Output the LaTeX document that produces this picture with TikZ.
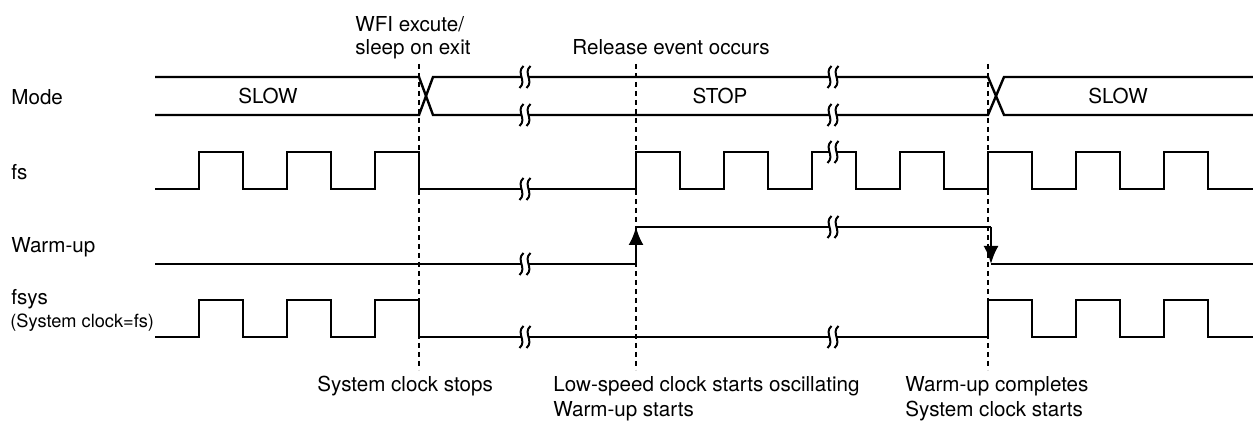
\documentclass[tikz,border=0pt]{standalone}
\usepackage{fontspec}
\setmainfont{TeX Gyre Heros}
\usetikzlibrary{arrows.meta}

\begin{document}
\begin{tikzpicture}[x=0.5pt, y=-0.5pt, >={Latex[length=9pt,width=7.5pt]},
    every node/.style={font=\fontsize{10.3}{12}\selectfont, inner sep=0pt},
    sig/.style={line width=1.2pt},
    guide/.style={line width=0.8pt, dash pattern=on 2.5pt off 2pt},
    small/.style={font=\fontsize{9.1}{11}\selectfont}]
\useasboundingbox (0,0) rectangle (1253,421);

% row labels
\node[anchor=base west] (mode) at (11,105) {Mode};
\node[anchor=base west] (fs) at (11,180) {fs};
\node[anchor=base west] (warm) at (11,253) {Warm-up};
\node[anchor=base west] (fsys) at (11,305) {fsys};
\node[anchor=base west, small] (fsysnote) at (10,328) {(System clock=fs)};

% event texts
\node[anchor=base west] (wfi) at (355,32) {WFI excute/};
\node[anchor=base west] (sleep) at (355,55) {sleep on exit};
\node[anchor=base west] (release) at (572,55) {Release event occurs};
\node[anchor=base west] (stops) at (317,392) {System clock stops};
\node[anchor=base west] (osc) at (553,392) {Low-speed clock starts oscillating};
\node[anchor=base west] (wstart) at (553,417) {Warm-up starts};
\node[anchor=base west] (wdone) at (905,392) {Warm-up completes};
\node[anchor=base west] (cstart) at (905,417) {System clock starts};

% mode names
\node[anchor=base] (slow1) at (268,104) {SLOW};
\node[anchor=base] (stop) at (720,104) {STOP};
\node[anchor=base] (slow2) at (1118,104) {SLOW};

% dashed event lines
\foreach \gx in {419,636,988}
  \draw[guide] (\gx,64) -- (\gx,370);

% Mode
\draw[sig] (155,77) -- (419,77) -- (433,115) -- (988,115) -- (1004,77) -- (1253,77);
\draw[sig] (155,115) -- (419,115) -- (433,77) -- (988,77) -- (1004,115) -- (1253,115);

% fs
\draw[sig] (155,189)
  \foreach \t in {199,287,375} { -- (\t,189) -- (\t,152) -- (\t+44,152) -- (\t+44,189) }
  \foreach \t in {636,724,812,900,988,1076,1164} { -- (\t,189) -- (\t,152) -- (\t+44,152) -- (\t+44,189) }
  -- (1253,189);

% Warm-up
\coordinate (wup) at (636,227);
\coordinate (wdn) at (991,264);
\draw[sig] (155,264) -- (636,264);
\draw[sig,->] (636,264) -- (wup);
\draw[sig] (wup) -- (991,227);
\draw[sig,->] (991,227) -- (wdn);
\draw[sig] (wdn) -- (1253,264);

% fsys
\draw[sig] (155,337)
  \foreach \t in {199,287,375} { -- (\t,337) -- (\t,300) -- (\t+44,300) -- (\t+44,337) }
  \foreach \t in {988,1076,1164} { -- (\t,337) -- (\t,300) -- (\t+44,300) -- (\t+44,337) }
  -- (1253,337);

% time breaks
\foreach \bx/\by in {525/77, 525/115, 525/189, 525/264, 525/337,
                     833/77, 833/115, 833/152, 833/227, 833/337} {
  \fill[white] (\bx-3,\by-3) rectangle (\bx+3,\by+3);
  \foreach \dx in {-3.5,3.5}
    \draw[line width=1pt] (\bx+\dx+2,\by-11) .. controls (\bx+\dx-6,\by-4) and (\bx+\dx+6,\by+4) .. (\bx+\dx-2,\by+11);
}
\end{tikzpicture}
\end{document}
